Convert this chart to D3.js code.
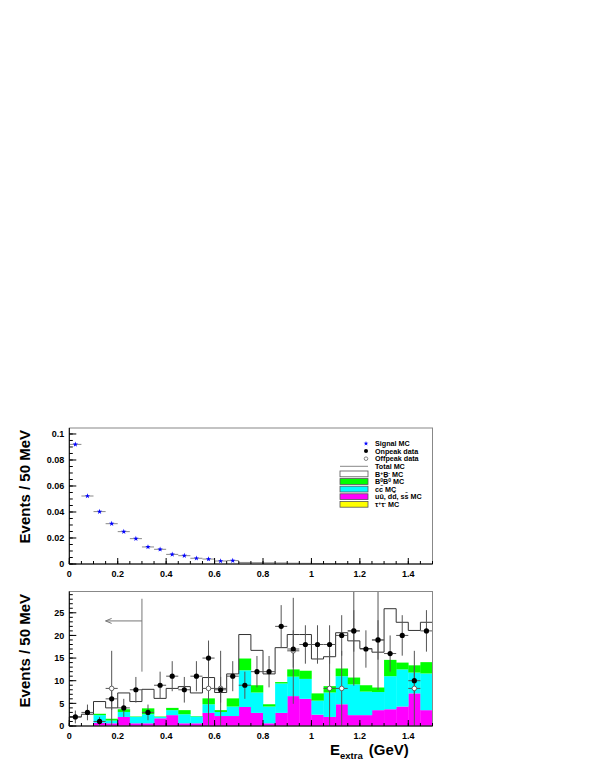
<!DOCTYPE html>
<html><head><meta charset="utf-8">
<script src="https://cdn.jsdelivr.net/npm/d3@7"></script>
<style>
body{margin:0;background:#fff}
svg text{font-family:"Liberation Sans",Arial,Helvetica,sans-serif;font-weight:bold;fill:#000}
</style>
</head><body>
<svg id="c" width="599" height="776"></svg>
<script>
// ---------- data ----------
const binCenters = [0.025,0.075,0.125,0.175,0.225,0.275,0.325,0.375,0.425,0.475,
  0.525,0.575,0.625,0.675,0.725,0.775,0.825,0.875,0.925,0.975,
  1.025,1.075,1.125,1.175,1.225,1.275,1.325,1.375,1.425,1.475];
const binHalfWidth = 0.025;

const signalMC = [0.092,0.0523,0.0403,0.031,0.0249,0.0195,0.0131,0.0113,0.0074,0.0064,
  0.0044,0.0038,0.0023,0.0026,0.0012,0.0010,0.0009,0.0008,0.0006,0.0005,
  0.0004,0.0003,0.0002,0.0002,0,0,0,0,0,0];

const onpeakData = [2,3,1,6,4,8,3,9,11,8,11,15,8,11,9,12,12,22,17,18,18,18,20,21,17,19,16,20,10,21];

const offpeakX   = [0.175,0.575,0.625,0.925,1.075,1.125,1.175,1.275,1.425];
const offpeakVal = [8.3,8.3,8.3,16.6,8.3,8.3,21,19,8.3];
const offpeakErr = [8.3,8.3,8.3,11.7,8.3,8.3,12.1,11.0,8.3];

const udsMC = [0,0,0.7,0.6,2.0,0.6,0.6,1.7,2.4,0.6,0.6,2.9,2.2,2.2,4.2,2.9,0.6,2.9,6.6,6.0,2.5,2.0,4.8,2.4,2.4,3.5,3.7,4.3,7.2,3.5];
const ccMC  = [0,0,1.7,0.6,1.1,1.4,2.0,0.3,1.1,2.0,1.5,1.9,0.9,2.1,8.1,4.5,3.7,6.5,4.3,4.4,3.1,5.4,6.2,6.8,5.2,4.0,7.3,8.2,4.6,8.1];
const b0MC  = [0,0,0.3,0.4,0.6,0.1,1.3,0.1,0.5,0.9,0.1,1.3,0.4,1.8,2.6,1.6,0.5,0.3,1.6,1.8,1.6,1.4,1.7,1.5,1.4,1.0,3.6,1.5,1.6,2.5];
const bpMC  = [2.0,2.6,2.7,2.4,3.6,3.3,4.2,4.0,4.3,5.2,5.1,4.6,3.9,5.4,5.3,7.7,6.7,7.6,7.7,8.0,7.6,6.5,7.9,8.1,8.1,7.8,11.3,8.9,7.7,8.8];
const tauMC = [0,0,0,0,0,0,0,0,0,0,0,0,0,0,0,0,0,0,0,0,0,0,0,0,0,0,0,0,0,0];

const xTicks = [0,0.2,0.4,0.6,0.8,1,1.2,1.4];
const xTickLabels = ["0","0.2","0.4","0.6","0.8","1","1.2","1.4"];
const topYTicks = [0,0.02,0.04,0.06,0.08,0.1];
const topYTickLabels = ["0","0.02","0.04","0.06","0.08","0.1"];
const botYTicks = [0,5,10,15,20,25];
const botYTickLabels = ["0","5","10","15","20","25"];

const arrowCut = 0.3;   // signal-region cut shown by the arrow

// ---------- layout ----------
const svg = d3.select("#c");
const X0 = 69.3, X1 = 432.5;
const x = d3.scaleLinear().domain([0,1.5]).range([X0,X1]);
const yTop = d3.scaleLinear().domain([0,0.1046]).range([564,428]);
const yBot = d3.scaleLinear().domain([0,29.7]).range([726,591.5]);
const bw = x(0.05)-x(0);

const colors = {uds:"#ff00ff", cc:"#00ffff", b0:"#00ff00", bp:"#ffffff", tau:"#ffff00"};
const grey = "#555";

// ---------- top panel ----------
const gT = svg.append("g");
signalMC.forEach((v,i)=>{
  if(v<=0) return;
  gT.append("line").attr("x1",x(binCenters[i]-binHalfWidth)).attr("x2",x(binCenters[i]+binHalfWidth))
    .attr("y1",yTop(v)).attr("y2",yTop(v)).attr("stroke","#888").attr("stroke-width",1);
});
const star = d3.symbol().type(d3.symbolStar).size(9);
signalMC.forEach((v,i)=>{
  if(v<0.002) return;
  gT.append("path").attr("d",star()).attr("transform",`translate(${x(binCenters[i])},${yTop(v)})`)
    .attr("fill","#0000ff");
});

function drawAxes(g, y, yTicks, yLabels, minorStep, yMax){
  const yb = y(0), yt = y(yMax);
  g.append("rect").attr("x",X0).attr("y",yt).attr("width",X1-X0).attr("height",yb-yt)
    .attr("fill","none").attr("stroke","#888").attr("stroke-width",1);
  g.append("line").attr("x1",X0).attr("x2",X0).attr("y1",yb).attr("y2",yt).attr("stroke","#000");
  g.append("line").attr("x1",X0).attr("x2",X1).attr("y1",yb).attr("y2",yb).attr("stroke","#000");
  d3.range(0, yMax+1e-9, minorStep).forEach(v=>{
    g.append("line").attr("x1",X0).attr("x2",X0+3.5).attr("y1",y(v)).attr("y2",y(v)).attr("stroke","#000");
  });
  yTicks.forEach((v,i)=>{
    g.append("line").attr("x1",X0).attr("x2",X0+7).attr("y1",y(v)).attr("y2",y(v)).attr("stroke","#000");
    g.append("text").attr("x",X0-5).attr("y",y(v)).attr("dy","0.35em").attr("text-anchor","end")
      .attr("font-size","9px").text(yLabels[i]);
  });
  d3.range(0,1.5001,0.05).forEach(v=>{
    g.append("line").attr("x1",x(v)).attr("x2",x(v)).attr("y1",yb).attr("y2",yb-3).attr("stroke","#000");
  });
  xTicks.forEach((v,i)=>{
    g.append("line").attr("x1",x(v)).attr("x2",x(v)).attr("y1",yb).attr("y2",yb-6).attr("stroke","#000");
    g.append("text").attr("x",x(v)).attr("y",yb+12.5).attr("text-anchor","middle")
      .attr("font-size","9px").text(xTickLabels[i]);
  });
}
drawAxes(gT, yTop, topYTicks, topYTickLabels, 0.005, 0.1046);

// legend
const lg = svg.append("g");
const rowY = i => 443.5 + 7.6*i;
const legendFont = "7.2px";
function legText(i, parts){
  const t = lg.append("text").attr("x",375).attr("y",rowY(i)+2.6).attr("font-size",legendFont);
  parts.forEach(p=>{
    const s = t.append("tspan").text(p[0]);
    if(p[1]==="sup") s.attr("dy",-2).attr("font-size","5px");
    if(p[1]==="down") s.attr("dy",2);
  });
}
lg.append("path").attr("d",d3.symbol().type(d3.symbolStar).size(7)()).attr("transform",`translate(366,${rowY(0)})`).attr("fill","#0000ff");
legText(0,[["Signal MC"]]);
lg.append("circle").attr("cx",366).attr("cy",rowY(1)).attr("r",2).attr("fill","#000");
legText(1,[["Onpeak data"]]);
lg.append("circle").attr("cx",366).attr("cy",rowY(2)).attr("r",1.8).attr("fill","#fff").attr("stroke","#666").attr("stroke-width",0.8);
legText(2,[["Offpeak data"]]);
lg.append("line").attr("x1",340).attr("x2",368).attr("y1",rowY(3)).attr("y2",rowY(3)).attr("stroke","#888").attr("stroke-width",1);
legText(3,[["Total MC"]]);
const boxes = [["bp",4],["b0",5],["cc",6],["uds",7],["tau",8]];
boxes.forEach(([k,i])=>{
  lg.append("rect").attr("x",340).attr("y",rowY(i)-2.9).attr("width",28).attr("height",5.8)
    .attr("fill",colors[k]).attr("stroke","#555").attr("stroke-width",0.8);
});
legText(4,[["B"],["+","sup"],["B","down"],["-","sup"],[" MC","down"]]);
legText(5,[["B"],["0","sup"],["B\u0304","down"],["0","sup"],[" MC","down"]]);
legText(6,[["cc\u0304 MC"]]);
legText(7,[["u\u016b, dd\u0304, ss\u0304 MC"]]);
legText(8,[["\u03c4"],["+","sup"],["\u03c4","down"],["-","sup"],[" MC","down"]]);

// ---------- bottom panel ----------
const gB = svg.append("g");
const rows = binCenters.map((c,i)=>({c, uds:udsMC[i], cc:ccMC[i], b0:b0MC[i], bp:bpMC[i], tau:tauMC[i]}));
const keys = ["uds","cc","b0","bp","tau"];
const stacked = d3.stack().keys(keys)(rows);
stacked.forEach(layer=>{
  if(layer.key==="bp") return;
  gB.append("g").selectAll("rect").data(layer).join("rect")
    .attr("x",d=>x(d.data.c-binHalfWidth)).attr("width",bw+0.3)
    .attr("y",d=>yBot(d[1])).attr("height",d=>Math.max(0,yBot(d[0])-yBot(d[1])))
    .attr("fill",colors[layer.key]);
});
const totals = rows.map(r=>keys.reduce((s,k)=>s+r[k],0));
let p = `M${x(0)},${yBot(0)}`;
totals.forEach((t,i)=>{
  p += `L${x(binCenters[i]-binHalfWidth)},${yBot(t)}L${x(binCenters[i]+binHalfWidth)},${yBot(t)}`;
});
gB.append("path").attr("d",p).attr("fill","none").attr("stroke","#333").attr("stroke-width",1);

// arrow
gB.append("line").attr("x1",x(arrowCut)).attr("x2",x(arrowCut)).attr("y1",yBot(12)).attr("y2",yBot(28.1)).attr("stroke","#777");
gB.append("line").attr("x1",x(arrowCut)).attr("x2",x(0.15)).attr("y1",yBot(23.2)).attr("y2",yBot(23.2)).attr("stroke","#777");
gB.append("path").attr("d",`M${x(0.15)+6},${yBot(23.2)-2.5}L${x(0.15)},${yBot(23.2)}L${x(0.15)+6},${yBot(23.2)+2.5}`)
  .attr("fill","none").attr("stroke","#777");

svg.append("clipPath").attr("id","clipB").append("rect")
  .attr("x",X0).attr("y",yBot(29.7)).attr("width",X1-X0).attr("height",yBot(0)-yBot(29.7));
const gD = gB.append("g").attr("clip-path","url(#clipB)");
offpeakX.forEach((c,i)=>{
  const v=offpeakVal[i], e=offpeakErr[i];
  gD.append("line").attr("x1",x(c)).attr("x2",x(c)).attr("y1",yBot(Math.max(0,v-e))).attr("y2",yBot(v+e)).attr("stroke",grey);
  gD.append("line").attr("x1",x(c-binHalfWidth)).attr("x2",x(c+binHalfWidth)).attr("y1",yBot(v)).attr("y2",yBot(v)).attr("stroke",grey);
});
onpeakData.forEach((v,i)=>{
  const c=binCenters[i], e=Math.sqrt(v);
  gD.append("line").attr("x1",x(c)).attr("x2",x(c)).attr("y1",yBot(Math.max(0,v-e))).attr("y2",yBot(v+e)).attr("stroke",grey);
  gD.append("line").attr("x1",x(c-binHalfWidth)).attr("x2",x(c+binHalfWidth)).attr("y1",yBot(v)).attr("y2",yBot(v)).attr("stroke",grey);
});
offpeakX.forEach((c,i)=>{
  gD.append("circle").attr("cx",x(c)).attr("cy",yBot(offpeakVal[i])).attr("r",2.3)
    .attr("fill","#fff").attr("stroke","#555").attr("stroke-width",0.9);
});
onpeakData.forEach((v,i)=>{
  gD.append("circle").attr("cx",x(binCenters[i])).attr("cy",yBot(v)).attr("r",2.6).attr("fill","#000");
});

drawAxes(gB, yBot, botYTicks, botYTickLabels, 1, 29.7);

// axis titles
[[30,430],[30,594]].forEach(([tx,ty])=>{
  svg.append("text").attr("transform",`translate(${tx},${ty}) rotate(-90)`).attr("text-anchor","end")
    .attr("font-size","15px").text("Events / 50 MeV");
});
const xt = svg.append("text").attr("x",330).attr("y",755).attr("font-size","15px");
xt.append("tspan").text("E");
xt.append("tspan").attr("font-size","9.5px").attr("dy",4).text("extra");
xt.append("tspan").attr("dy",-4).attr("dx",6).text("(GeV)");
</script>
</body></html>
